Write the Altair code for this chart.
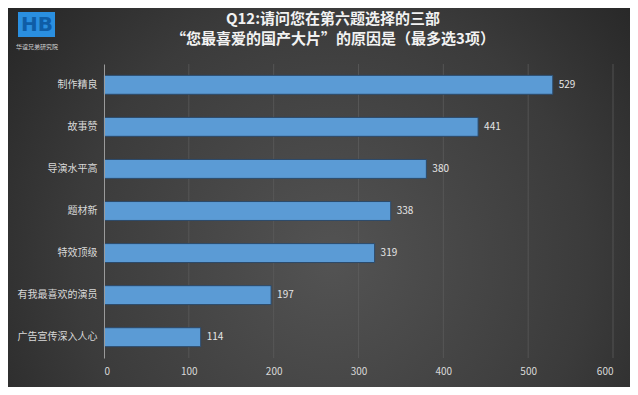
import altair as alt
import pandas as pd

categories = ["制作精良", "故事赞", "导演水平高", "题材新", "特效顶级", "有我最喜欢的演员", "广告宣传深入人心"]
values = [529, 441, 380, 338, 319, 197, 114]
title_lines = ["Q12:请问您在第六题选择的三部", "“您最喜爱的国产大片”的原因是（最多选3项）"]
x_ticks = [0, 100, 200, 300, 400, 500, 600]

df = pd.DataFrame({"cat": categories, "val": values})

FONT = "Noto Sans CJK SC"
W, H = 509, 294
PL, PT, PR, PB = 96, 56, 17, 29

one = pd.DataFrame({"a": [0]})

bg = alt.Chart(one).mark_rect(
    fill=alt.Gradient(
        gradient="radial",
        stops=[alt.GradientStop(color="#535353", offset=0),
               alt.GradientStop(color="#3b3b3b", offset=0.55),
               alt.GradientStop(color="#1e1e1e", offset=1)],
        x1=0.52, y1=0.6, x2=0.52, y2=0.6, r1=0, r2=0.75,
    )
).encode(
    x=alt.value(-PL), x2=alt.value(W + PR),
    y=alt.value(-PT), y2=alt.value(H + PB),
)

logo_box = alt.Chart(one).mark_rect(fill="#2a8fe0").encode(
    x=alt.value(-86), x2=alt.value(-49), y=alt.value(-52), y2=alt.value(-27))
logo = alt.Chart(pd.DataFrame({"t": ["HB"]})).mark_text(
    font="DejaVu Sans", fontSize=20, fontWeight="bold", color="#0f5da6"
).encode(text="t:N", x=alt.value(-67), y=alt.value(-39))
logo_txt = alt.Chart(pd.DataFrame({"t": ["华谊兄弟研究院"]})).mark_text(
    font=FONT, fontSize=6, color="#cfcfcf"
).encode(text="t:N", x=alt.value(-67), y=alt.value(-17))

title_df = pd.DataFrame({"t": title_lines, "y": [-45, -25]})
title = alt.Chart(title_df).mark_text(
    font=FONT, fontSize=15, fontWeight="bold", color="#f2f2f2", baseline="middle"
).encode(text="t:N", x=alt.value(229), y=alt.Y("y:Q", scale=None))

grid = alt.Chart(pd.DataFrame({"g": x_ticks[1:]})).mark_rule(
    color="#5e5e5e", strokeWidth=1, opacity=0.7
).encode(x=alt.X("g:Q", scale=alt.Scale(domain=[0, 600], nice=False)))

base = alt.Chart(df).encode(
    y=alt.Y("cat:N", sort=categories, title=None,
            scale=alt.Scale(paddingInner=0.55, paddingOuter=0.27),
            axis=alt.Axis(labelColor="#d9d9d9", labelFont=FONT, labelFontSize=10,
                          labelPadding=7, ticks=False, domainColor="#9a9a9a",
                          domainWidth=1, grid=False, zindex=1)),
    x=alt.X("val:Q", title=None, scale=alt.Scale(domain=[0, 600], nice=False),
            axis=alt.Axis(values=x_ticks, labelColor="#d9d9d9", labelFont=FONT,
                          labelFontSize=10, domain=False, ticks=False, labelPadding=8,
                          grid=False, zindex=1)),
)

bars = base.mark_bar(color="#5B9BD5", stroke="#2c4a6a", strokeWidth=1)
labels = base.mark_text(align="left", dx=6, color="#e6e6e6", font=FONT, fontSize=10).encode(
    text="val:Q")

chart = alt.layer(bg, grid, bars, labels, logo_box, logo, logo_txt, title).properties(
    width=W, height=H,
    padding={"left": PL, "top": PT, "right": PR, "bottom": PB},
    autosize=alt.AutoSizeParams(type="none"),
    background="#2a2a2a",
).configure_view(stroke=None)

chart.save("out.html", embed_options={"renderer": "svg", "actions": False})
